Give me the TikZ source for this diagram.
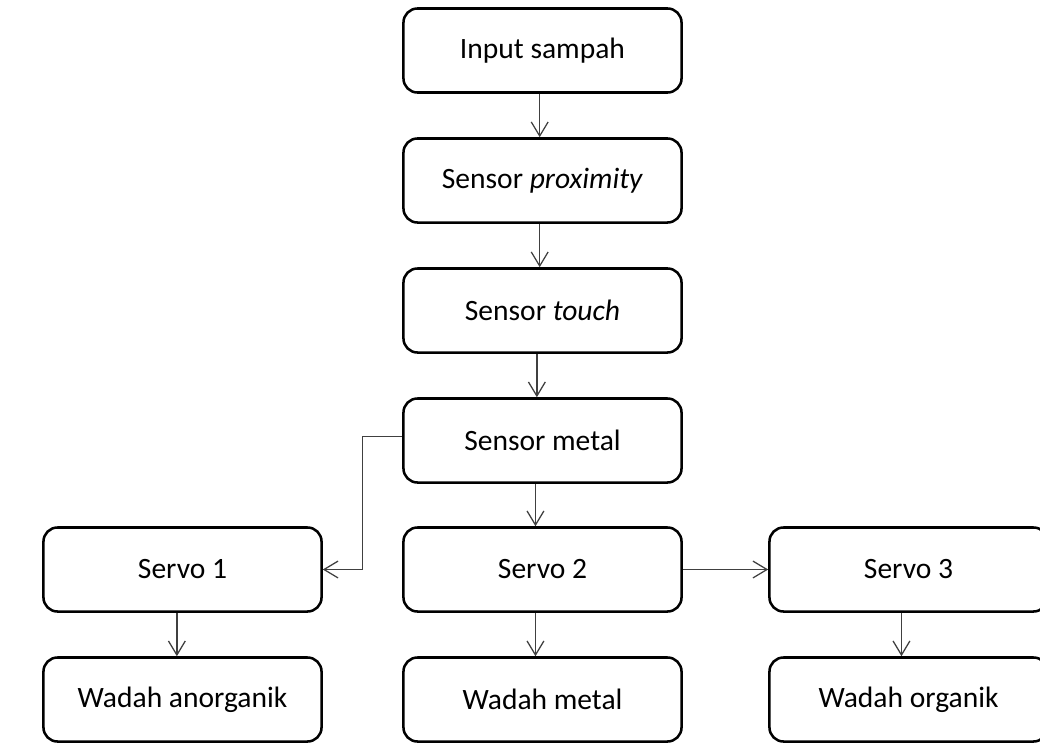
\documentclass[tikz,border=0pt]{standalone}
\usepackage{fontspec}
\setmainfont{Carlito}
\usepackage{tikz}
\usetikzlibrary{arrows.meta}

\tikzset{
  blok/.style={draw=black,line width=1.8pt,rounded corners=10pt,fill=white,
    minimum width=6.95cm,minimum height=2.1cm,inner sep=0pt,
    font=\fontsize{21}{25}\selectfont},
  panah/.style={draw=black!75,line width=0.9pt,-{Straight Barb[length=10pt,width=12pt]}}
}

\begin{document}
\begin{tikzpicture}[x=0.025cm,y=-0.025cm]
\useasboundingbox (0,0) rectangle (1040,744);
% jalur utama
\node[blok] (input) at (542.5,50.5) {Input sampah};
\node[blok] (prox) at (542.5,180.5) {Sensor \textit{proximity}};
\node[blok] (touch) at (542.5,310.5) {Sensor \textit{touch}};
\node[blok] (metal) at (542.5,440.5) {Sensor metal};
% servo
\node[blok] (servo1) at (182.5,569.5) {Servo 1};
\node[blok] (servo2) at (542.5,569.5) {Servo 2};
\node[blok] (servo3) at (908.5,569.5) {Servo 3};
% wadah
\node[blok] (wadah1) at (182.5,699.5) {Wadah anorganik};
\node[blok] (wadah2) at (542.5,699.5) {Wadah metal};
\node[blok] (wadah3) at (908.5,699.5) {Wadah organik};

\draw[panah] ([xshift=-2]input.south) -- ([xshift=-2]prox.north);
\draw[panah] ([xshift=-2]prox.south) -- ([xshift=-2]touch.north);
\draw[panah] ([xshift=-4]touch.south) -- ([xshift=-4]metal.north);
\draw[panah] ([xshift=-5]metal.south) -- ([xshift=-5]servo2.north);
\draw[panah] ([yshift=3]metal.west) -- ++(-40,0) |- (servo1.east);
\draw[panah] (servo2) -- (servo3);
\draw[panah] ([xshift=-4]servo1.south) -- ([xshift=-4]wadah1.north);
\draw[panah] ([xshift=-5]servo2.south) -- ([xshift=-5]wadah2.north);
\draw[panah] ([xshift=-5]servo3.south) -- ([xshift=-5]wadah3.north);
\end{tikzpicture}
\end{document}
